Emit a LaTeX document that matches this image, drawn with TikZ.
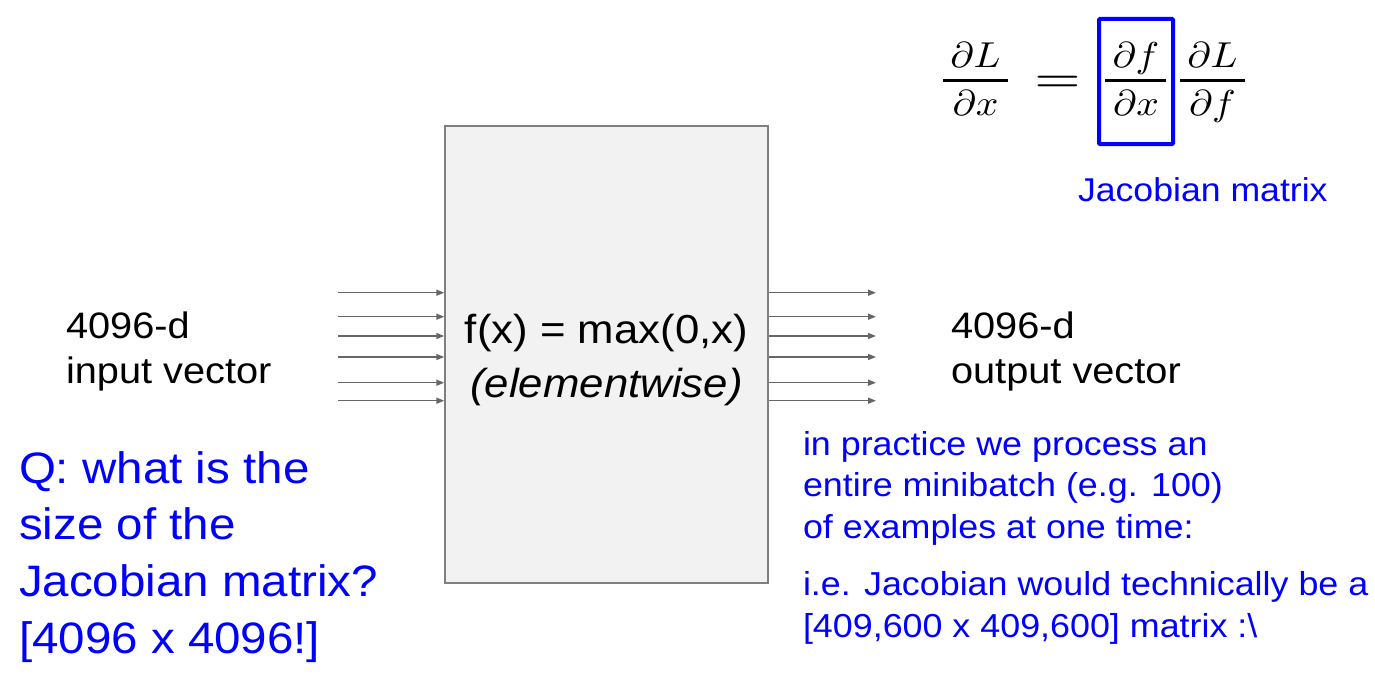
\documentclass[tikz,border=0pt]{standalone}
\usepackage[no-math]{fontspec}
\setmainfont{Liberation Sans}
\usepackage{graphicx}
\usetikzlibrary{arrows.meta}
\newcommand{\sxt}[2]{\scalebox{1.08}[1]{\begin{tabular}[t]{@{}#1@{}}#2\end{tabular}}}
\newcommand{\sxm}[1]{\scalebox{3.96}[3.6]{$#1$}}
\definecolor{arrgray}{HTML}{666666}
\definecolor{boxgray}{HTML}{7F7F7F}
\definecolor{boxfill}{HTML}{F2F2F2}
\definecolor{jblue}{HTML}{0000FF}
\begin{document}
\begin{tikzpicture}[x=1pt,y=-1pt,
  txt/.style={inner sep=0pt, outer sep=0pt},
  lbl/.style={txt, anchor=base west, font=\fontsize{36.8}{45}\selectfont},
  bluetxt/.style={txt, anchor=base west, text=jblue},
  mth/.style={txt, anchor=base, font=\fontsize{10}{12}\selectfont},
  fbar/.style={line width=3pt},
  arr/.style={draw=arrgray, line width=1.5pt, -{Triangle[length=8pt,width=6pt]}},
  fbox/.style={draw=boxgray, fill=boxfill, line width=1.5pt, minimum width=323pt, minimum height=457pt, inner sep=0pt}
]
\useasboundingbox[fill=white] (0,0) rectangle (1375,682);

% central box
\node[fbox] (box) at (606.5,354.5) {};
\node[txt, anchor=base, font=\fontsize{40.5}{54}\selectfont] (ftext) at (606.5,343)
  {\sxt{c}{f(x) = max(0,x)\\ \itshape (elementwise)}};

% input / output arrows
\foreach \i/\yy in {1/292.7,2/316.7,3/336,4/357,5/382.7,6/400.7}{
  \coordinate (in\i) at (338,\yy);
  \coordinate (out\i) at (876,\yy);
  \draw[arr] (in\i) -- (in\i -| box.west);
  \draw[arr] (out\i -| box.east) -- (out\i);
}

% side labels
\node[lbl] (inlbl) at (66,338) {\sxt{l}{4096-d\\input vector}};
\node[lbl] (outlbl) at (951,338) {\sxt{l}{4096-d\\output vector}};

% question
\node[bluetxt, font=\fontsize{44}{56.7}\selectfont] (q) at (19,483)
  {\sxt{l}{Q: what is the\\size of the\\Jacobian matrix?\\{[}4096 x 4096!{]}}};

% right notes
\node[bluetxt, font=\fontsize{33.2}{41.5}\selectfont] (note1) at (803,455)
  {\sxt{l}{in practice we process an\\entire minibatch (e.g. 100)\\of examples at one time:}};
\node[bluetxt, font=\fontsize{33.2}{42}\selectfont] (note2) at (803,595)
  {\sxt{l}{i.e. Jacobian would technically be a\\{[}409,600 x 409,600{]} matrix :\textbackslash}};

% formula
\node[mth] (n1) at (975.5,68) {\sxm{\partial L}};
\node[mth] (d1) at (975.5,116) {\sxm{\partial x}};
\draw[fbar] (943,81) -- (1008,81);
\node[mth, font=\fontsize{5}{6}\selectfont] (eq) at (1057.5,90.5) {\scalebox{9.5}[7.2]{$=$}};
\node[mth] (n2) at (1136,68) {\sxm{\partial f}};
\node[mth] (d2) at (1136,116) {\sxm{\partial x}};
\draw[fbar] (1105,81) -- (1166,81);
\node[mth] (n3) at (1212.5,68) {\sxm{\partial L}};
\node[mth] (d3) at (1212.5,116) {\sxm{\partial f}};
\draw[fbar] (1180,81) -- (1245,81);
\node[draw=jblue, line width=4pt, rounded corners=1pt, minimum width=74pt, minimum height=125pt, inner sep=0pt] (jbox) at (1136,81.5) {};
\node[bluetxt, font=\fontsize{33}{40}\selectfont] (jlbl) at (1078,201) {\sxt{l}{Jacobian matrix}};
\end{tikzpicture}
\end{document}
